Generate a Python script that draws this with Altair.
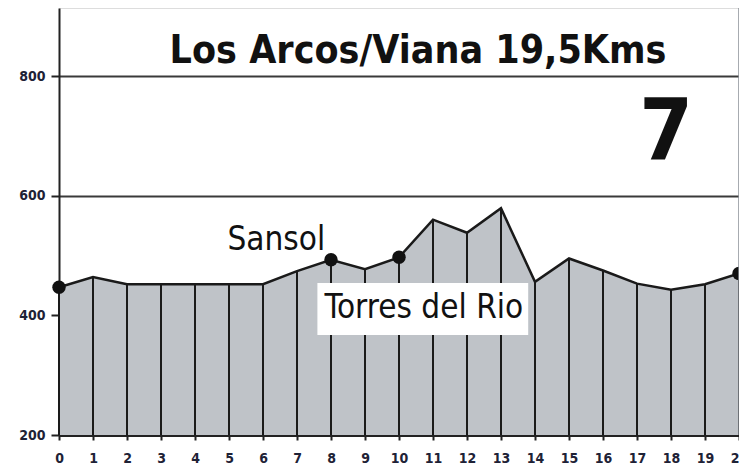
import altair as alt
import pandas as pd

# ---- data ----
km = list(range(21))
elev = [447, 464, 452, 452, 452, 452, 452, 474, 493, 477, 497,
        560, 538, 579, 456, 495, 475, 453, 443, 452, 470]
stop_km = [0, 8, 10, 20]
stop_elev = [447, 493, 497, 470]
y_ticks = [200, 400, 600, 800]

title_text = "Los Arcos/Viana 19,5Kms"
stage_text = "7"
place_names = ["Sansol", "Torres del Rio"]
place_km = [6.39, 10.73]
place_elev = [509, 395]

BASE = 200
TOP = 913.7
NARROW = "Liberation Sans Narrow, DejaVu Sans Condensed, sans-serif"

prof = pd.DataFrame({"km": km, "elev": elev, "base": [BASE] * len(km)})
stops = pd.DataFrame({"km": stop_km, "elev": stop_elev})
places = pd.DataFrame({"name": place_names, "km": place_km, "elev": place_elev})
labelbox = pd.DataFrame({"x": [7.6], "x2": [13.8], "y": [454], "y2": [367]})
title_df = pd.DataFrame({"t": [title_text], "km": [10.56], "elev": [821.7]})
stage_df = pd.DataFrame({"t": [stage_text], "km": [17.86], "elev": [659.6]})

xs = alt.Scale(domain=[0, 20], nice=False, zero=False)
ys = alt.Scale(domain=[BASE, TOP], nice=False, zero=False)

x_axis = alt.Axis(values=km, format="d", labelFontSize=14, labelFontWeight="bold",
                  labelColor="#1e2236", labelFont=NARROW, labelPadding=11,
                  labelOverlap=False, labelFlush=False, labelBound=False,
                  tickSize=5, tickWidth=2, tickColor="#222", domainWidth=3,
                  domainColor="#222", grid=False, title=None)
y_axis = alt.Axis(values=y_ticks, format="d", labelFontSize=14, labelFontWeight="bold",
                  labelColor="#1e2236", labelFont=NARROW, labelPadding=6,
                  labelOverlap=False,
                  tickSize=8, tickWidth=2, tickColor="#222", domainWidth=2,
                  domainColor="#222", grid=True, gridColor="#3a3a3a", gridWidth=2,
                  title=None)


def X(field):
    return alt.X(field, type="quantitative", scale=xs, axis=x_axis)


def Y(field):
    return alt.Y(field, type="quantitative", scale=ys, axis=y_axis)


area = alt.Chart(prof).mark_area(color="#bfc3c8", opacity=1).encode(
    x=X("km"), y=Y("elev"), y2="base:Q",
)

verticals = alt.Chart(prof).mark_rule(color="#1a1a1a", strokeWidth=2).encode(
    x=X("km"), y=Y("base"), y2="elev:Q",
)

line = alt.Chart(prof).mark_line(color="#1a1a1a", strokeWidth=2.5).encode(
    x=X("km"), y=Y("elev"),
)

points = alt.Chart(stops).mark_circle(color="#111", opacity=1, size=180).encode(
    x=X("km"), y=Y("elev"),
)

box = alt.Chart(labelbox).mark_rect(color="white", opacity=1).encode(
    x=X("x"), x2="x2:Q", y=Y("y"), y2="y2:Q",
)

place_text = alt.Chart(places).mark_text(font=NARROW, fontSize=33, color="#111",
                                         align="center", baseline="alphabetic").encode(
    x=X("km"), y=Y("elev"), text="name:N",
)

title = alt.Chart(title_df).mark_text(
    font=NARROW, fontSize=39, fontWeight="bold", color="#111",
    align="center", baseline="alphabetic").encode(
    x=X("km"), y=Y("elev"), text="t:N")

stage = alt.Chart(stage_df).mark_text(
    font=NARROW, fontSize=86, fontWeight="bold", color="#111",
    align="center", baseline="alphabetic").encode(
    x=X("km"), y=Y("elev"), text="t:N")

right_border = alt.Chart(pd.DataFrame({"km": [20]})).mark_rule(color="#8a8f96", strokeWidth=1.5).encode(
    x=X("km"), y=alt.value(0), y2=alt.value(427),
)

chart = alt.layer(area, verticals, line, points, box, place_text, title, stage, right_border).properties(
    width=680, height=427,
    autosize=alt.AutoSizeParams(type="none"),
    padding={"left": 51, "top": 0, "right": 0, "bottom": 30},
).configure_view(stroke=None).configure_axis(labelOverlap=False).configure(background="white")

chart.save("out.html", embed_options={"renderer": "svg", "actions": False})
